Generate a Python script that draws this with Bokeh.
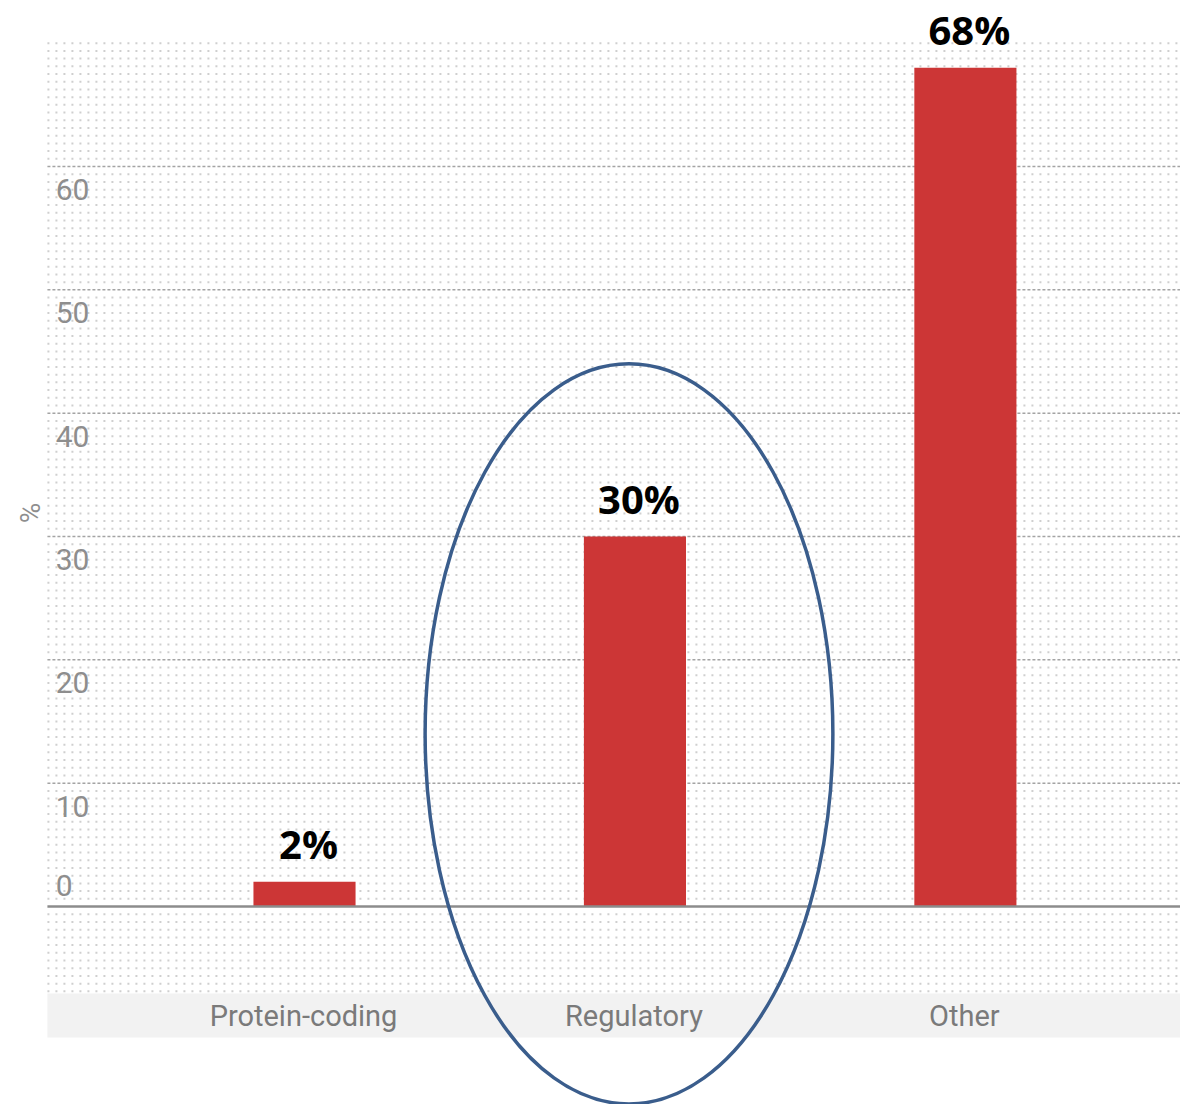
import numpy as np
from bokeh.plotting import figure
from bokeh.models import Range1d, ColumnDataSource
from bokeh.core.properties import value
from bokeh.embed import file_html
from bokeh.resources import INLINE

# ---- data ----
categories = ["Protein-coding", "Regulatory", "Other"]
shares = [2, 30, 68]
bar_labels = ["2%", "30%", "68%"]
y_ticks = [0, 10, 20, 30, 40, 50, 60]
y_tick_labels = ["0", "10", "20", "30", "40", "50", "60"]
axis_label = "%"
highlight = "Regulatory"

# ---- styling ----
BAR = "#cc3636"
NARROW = value("Roboto")
BOLD = value("Open Sans")

xs = list(range(len(categories)))
X0, X1 = -0.92, 2.651
Y0, Y1 = -16.05, 73.46
LEFT = -0.778
DOT_BOTTOM, DOT_TOP = -6.875, 70.0

p = figure(width=1180, height=1104, x_range=Range1d(X0, X1), y_range=Range1d(Y0, Y1),
           output_backend="svg", toolbar_location=None, min_border=0,
           x_axis_type=None, y_axis_type=None)
p.grid.visible = False
p.outline_line_color = None
p.background_fill_color = "white"
p.border_fill_color = "white"

# dotted background
step = 0.625
rows = [k * step for k in range(int(round(DOT_BOTTOM / step)), int(round(DOT_TOP / step)) + 1)]
rows = [r for r in rows if not any(abs(r - t) < 1e-6 for t in y_ticks)]
p.multi_line(xs=[[LEFT, X1] for _ in rows], ys=[[r, r] for r in rows],
             line_color="#cfcfcf", line_width=2, line_dash="2 6")

# gridlines
grid = [t for t in y_ticks if t != 0]
p.multi_line(xs=[[LEFT, X1] for _ in grid], ys=[[t, t] for t in grid],
             line_color="#a4a4a4", line_width=1.5, line_dash="3 2")

# category band
p.quad(left=[LEFT], right=[X1], bottom=[-10.62], top=[-7.05],
       fill_color="#f2f2f2", line_color=None)

# bars
src = ColumnDataSource(dict(x=xs, top=shares, label=bar_labels, cat=categories))
p.vbar(x="x", top="top", bottom=0, width=0.309, source=src,
       fill_color=BAR, line_color=None)

# zero line
p.segment(x0=[LEFT], x1=[X1], y0=[0], y1=[0], line_color="#8c8c8c", line_width=2.5)

# bar value labels
p.text(x="x", y="top", text="label", source=src, x_offset=4, y_offset=-38,
       text_align="center", text_baseline="alphabetic",
       text_font=BOLD, text_font_style="bold", text_font_size="40px", text_color="black")

# y tick labels
offs = [-21 if t == 0 else 23 for t in y_ticks]
p.text(x=[-0.753] * len(y_ticks), y=y_ticks, text=y_tick_labels, y_offset=offs,
       text_align="left", text_baseline="middle", text_font=NARROW,
       text_font_size="30px", text_color="#8e8e8e")

# axis label
p.text(x=[-0.829], y=[31.9], text=[axis_label], angle=np.pi / 2,
       text_align="center", text_baseline="middle", text_font=NARROW,
       text_font_size="28px", text_color="#8e8e8e")

# category labels
p.text(x="x", y=-8.9, text="cat", source=src, x_offset=-1,
       text_align="center", text_baseline="middle", text_font=NARROW,
       text_font_size="29px", text_color="#7a7a7a")

# highlight ellipse around the regulatory bar
hi = categories.index(highlight)
p.ellipse(x=[hi - 0.018], y=[14.0], width=1.234, height=60.0,
          fill_color=None, line_color="#3a5d8c", line_width=3.5)

open("out.html", "w").write(file_html(p, INLINE))
